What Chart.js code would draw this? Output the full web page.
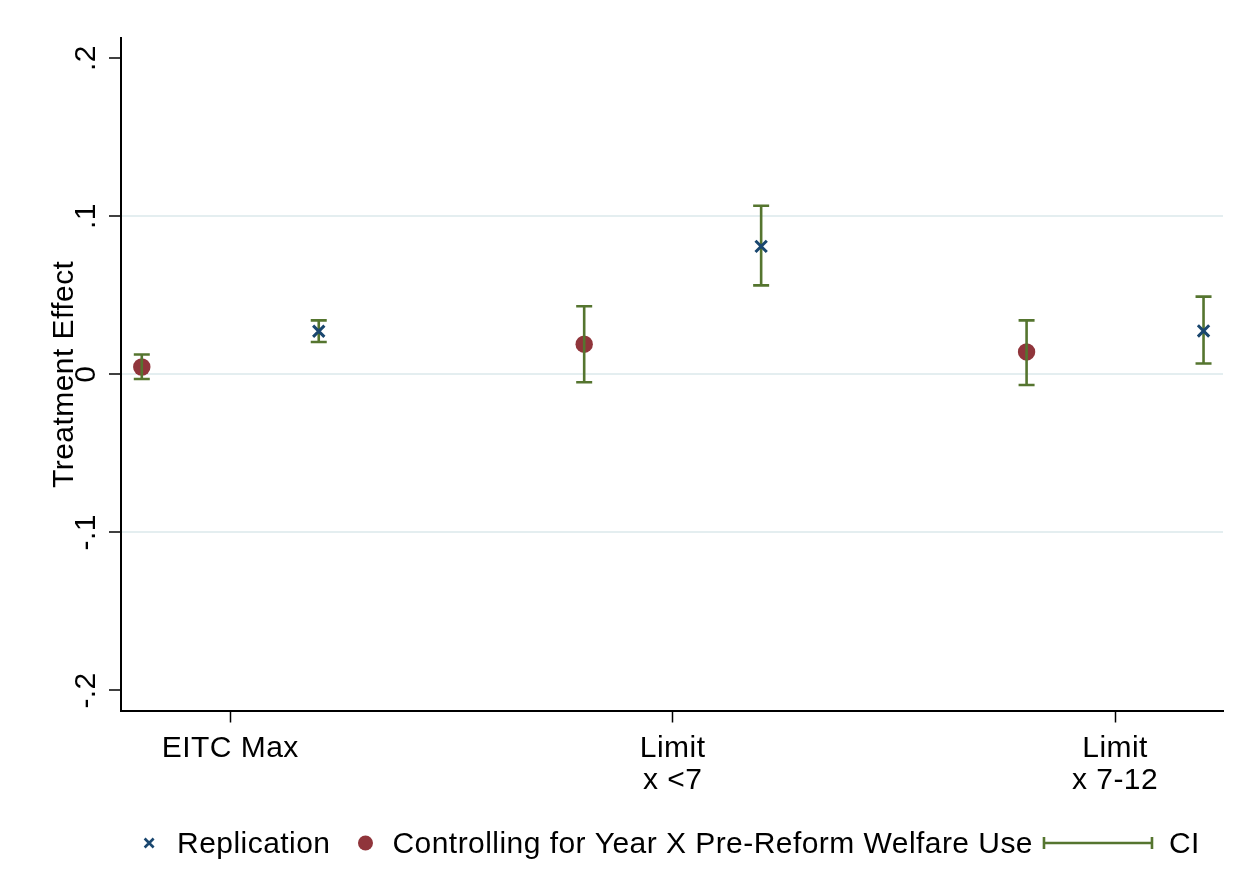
<!DOCTYPE html>
<html>
<head>
<meta charset="utf-8">
<script src="https://cdn.jsdelivr.net/npm/chart.js@4/dist/chart.umd.min.js"></script>
<style>
  html, body { margin: 0; padding: 0; background: #fff; }
  #wrap { width: 1250px; height: 893px; position: relative; }
</style>
</head>
<body>
<div id="wrap"><canvas id="c"></canvas></div>
<script>
// Categories and their axis positions
const categories = [['EITC Max'], ['Limit', 'x <7'], ['Limit', 'x 7-12']];
const categoryPos = [1, 2, 3];

// Replication estimates with confidence interval bounds
const replicationEst = [0.0272, 0.0809, 0.0274];
const replicationLo  = [0.0204, 0.0562, 0.0068];
const replicationHi  = [0.0341, 0.1066, 0.0491];

// Estimates controlling for year x pre-reform welfare use
const controlEst = [0.0046, 0.0190, 0.0141];
const controlLo  = [-0.0030, -0.0051, -0.0068];
const controlHi  = [0.0125, 0.0430, 0.0341];

// Y axis ticks
const yTickValues = [-0.2, -0.1, 0, 0.1, 0.2];
const yTickLabels = ['-.2', '-.1', '0', '.1', '.2'];

const seriesNames = ['Replication', 'Controlling for Year X Pre-Reform Welfare Use', 'CI'];

const NAVY = '#1a476f';
const MAROON = '#90353b';
const GREEN = '#55752f';
const GRID = '#e4eef0';
const FONT = '"Liberation Sans", Arial, sans-serif';
const FS = 30;
const SPACING = '0.45px';

const OFFSET = 0.2; // horizontal shift of each series from its category tick

const ciPlugin = {
  id: 'ciAndLabels',
  beforeDraw(chart) {
    chart.ctx.letterSpacing = SPACING;
  },
  afterDatasetDraw(chart, args) {
    if (args.index !== 1) return;
    const { ctx, scales: { x, y } } = chart;
    const cap = 8;
    ctx.save();
    ctx.strokeStyle = GREEN;
    ctx.lineWidth = 2.6;
    const drawCI = (xv, lo, hi) => {
      const px = x.getPixelForValue(xv);
      const pLo = y.getPixelForValue(lo);
      const pHi = y.getPixelForValue(hi);
      ctx.beginPath();
      ctx.moveTo(px, pLo); ctx.lineTo(px, pHi);
      ctx.moveTo(px - cap, pLo); ctx.lineTo(px + cap, pLo);
      ctx.moveTo(px - cap, pHi); ctx.lineTo(px + cap, pHi);
      ctx.stroke();
    };
    categoryPos.forEach((c, i) => {
      drawCI(c - OFFSET, controlLo[i], controlHi[i]);
      drawCI(c + OFFSET, replicationLo[i], replicationHi[i]);
    });
    ctx.restore();
  },
  afterDraw(chart) {
    const { ctx, chartArea, scales: { y } } = chart;
    ctx.save();
    ctx.letterSpacing = SPACING;
    ctx.fillStyle = '#000';
    ctx.font = FS + 'px ' + FONT;
    ctx.textAlign = 'center';
    ctx.textBaseline = 'alphabetic';
    // rotated y tick labels
    yTickValues.forEach((v, i) => {
      const py = y.getPixelForValue(v);
      ctx.save();
      ctx.translate(95, py);
      ctx.rotate(-Math.PI / 2);
      ctx.fillText(yTickLabels[i], 0, 0);
      ctx.restore();
    });
    // y axis title
    ctx.save();
    ctx.translate(73, (chartArea.top + chartArea.bottom) / 2);
    ctx.rotate(-Math.PI / 2);
    ctx.fillText('Treatment Effect', 0, 0);
    ctx.restore();

    // legend, centred under the plot region
    const ly = 843;
    const base = 853;
    const w0 = ctx.measureText(seriesNames[0]).width;
    const w1 = ctx.measureText(seriesNames[1]).width;
    const w2 = ctx.measureText(seriesNames[2]).width;
    const ciLen = 108;
    const total = 5 + 28 + w0 + 35 + 27 + w1 + 11 + ciLen + 17 + w2;
    let cx = (chartArea.left + chartArea.right) / 2 - total / 2;
    // replication marker
    const mx = cx + 5;
    ctx.strokeStyle = NAVY;
    ctx.lineWidth = 2.6;
    ctx.beginPath();
    ctx.moveTo(mx - 4.5, ly - 4.5); ctx.lineTo(mx + 4.5, ly + 4.5);
    ctx.moveTo(mx - 4.5, ly + 4.5); ctx.lineTo(mx + 4.5, ly - 4.5);
    ctx.stroke();
    ctx.textAlign = 'left';
    let tx = mx + 28;
    ctx.fillText(seriesNames[0], tx, base);
    tx += w0 + 35;
    ctx.fillStyle = MAROON;
    ctx.beginPath();
    ctx.arc(tx, ly, 7.5, 0, Math.PI * 2);
    ctx.fill();
    ctx.fillStyle = '#000';
    tx += 27;
    ctx.fillText(seriesNames[1], tx, base);
    tx += w1 + 11;
    ctx.strokeStyle = GREEN;
    ctx.lineWidth = 2.6;
    ctx.beginPath();
    ctx.moveTo(tx, ly); ctx.lineTo(tx + ciLen, ly);
    ctx.moveTo(tx, ly - 6); ctx.lineTo(tx, ly + 6);
    ctx.moveTo(tx + ciLen, ly - 6); ctx.lineTo(tx + ciLen, ly + 6);
    ctx.stroke();
    tx += ciLen + 17;
    ctx.fillText(seriesNames[2], tx, base);
    ctx.restore();
  }
};

new Chart(document.getElementById('c'), {
  type: 'scatter',
  data: {
    datasets: [
      {
        label: seriesNames[0],
        data: replicationEst.map((v, i) => ({ x: categoryPos[i] + OFFSET, y: v })),
        pointStyle: 'crossRot',
        pointRadius: 8,
        pointHoverRadius: 8,
        borderColor: NAVY,
        backgroundColor: NAVY,
        borderWidth: 3,
        order: 1
      },
      {
        label: seriesNames[1],
        data: controlEst.map((v, i) => ({ x: categoryPos[i] - OFFSET, y: v })),
        pointStyle: 'circle',
        pointRadius: 8.7,
        pointHoverRadius: 8.7,
        backgroundColor: MAROON,
        borderColor: MAROON,
        borderWidth: 0,
        order: 2
      }
    ]
  },
  options: {
    responsive: true,
    maintainAspectRatio: false,
    animation: false,
    events: [],
    layout: { padding: { top: 38, right: 27, left: 0, bottom: 0 } },
    plugins: { legend: { display: false }, tooltip: { enabled: false } },
    scales: {
      x: {
        type: 'linear',
        min: 0.753,
        max: 3.244,
        afterBuildTicks: (s) => { s.ticks = categoryPos.map(v => ({ value: v })); },
        afterFit: (s) => { s.height = 182.5; },
        ticks: {
          autoSkip: false,
          maxRotation: 0,
          minRotation: 0,
          padding: 11,
          color: '#000',
          font: { family: FONT, size: FS, lineHeight: 1.04 },
          callback: (v, i) => categories[i]
        },
        grid: { drawOnChartArea: false, tickLength: 12, tickColor: '#000', tickWidth: 1.5 },
        border: { color: '#000', width: 2 }
      },
      y: {
        type: 'linear',
        min: -0.2127,
        max: 0.2127,
        afterBuildTicks: (s) => { s.ticks = yTickValues.map(v => ({ value: v })); },
        afterFit: (s) => { s.width = 121; },
        ticks: { display: false },
        grid: {
          color: (c) => (c.tick && Math.abs(c.tick.value) > 0.15) ? 'rgba(0,0,0,0)' : GRID,
          lineWidth: 2,
          tickLength: 12,
          tickColor: '#000',
          tickWidth: 1.5
        },
        border: { color: '#000', width: 2 }
      }
    }
  },
  plugins: [ciPlugin]
});
</script>
</body>
</html>
